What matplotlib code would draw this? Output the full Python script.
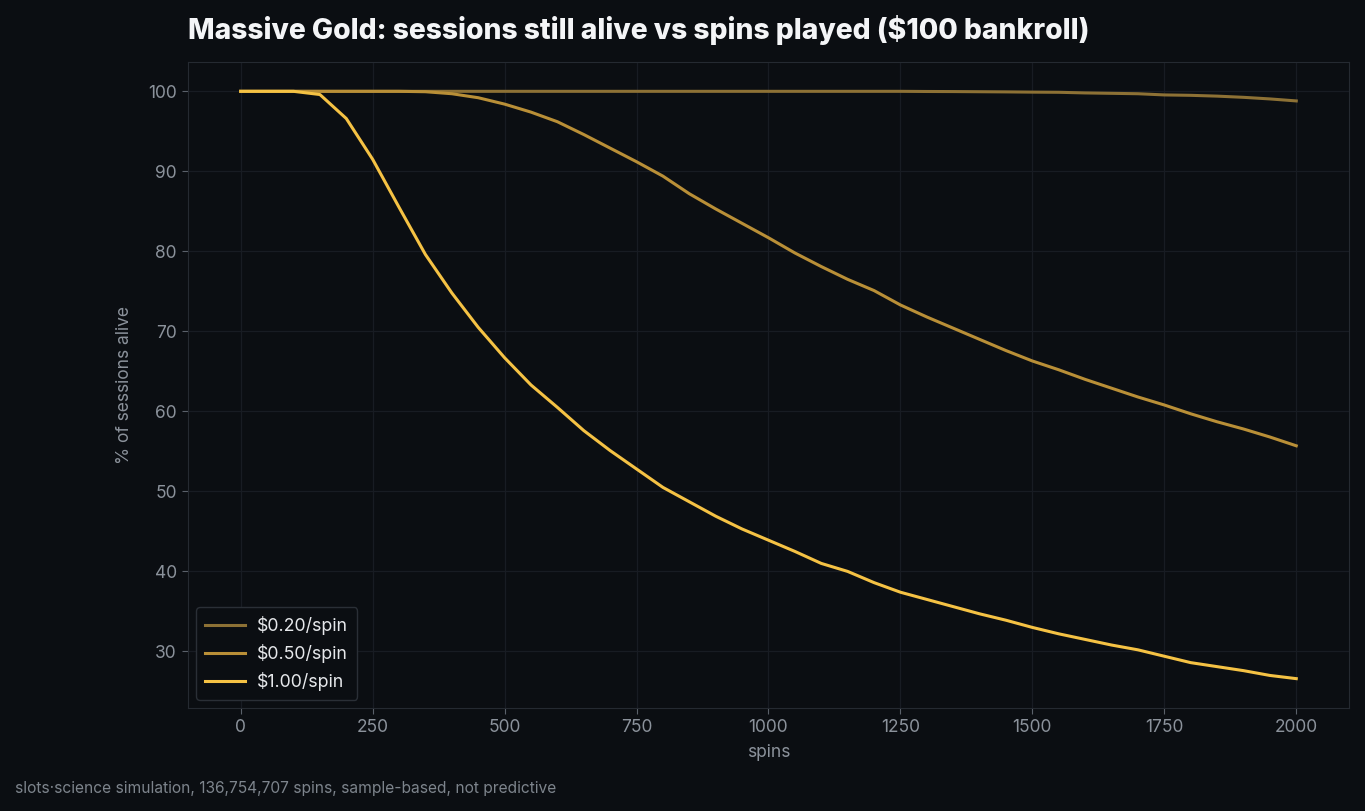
import matplotlib.pyplot as plt

# spins played, every 50
spins = list(range(0, 2001, 50))

alive_020 = [100, 100, 100, 100, 100, 100, 100, 100, 100, 100,
             100, 100, 100, 100, 100, 100, 100, 100, 100, 100,
             100, 100, 100, 100, 100, 100, 99.98, 99.97, 99.95, 99.93,
             99.9, 99.88, 99.8, 99.75, 99.7, 99.55, 99.5, 99.4, 99.25, 99.05,
             98.8]
alive_050 = [100, 100, 100, 100, 100, 100, 100, 99.95, 99.7, 99.2,
             98.4, 97.4, 96.2, 94.6, 92.9, 91.2, 89.4, 87.2, 85.3, 83.5,
             81.7, 79.8, 78.1, 76.5, 75.1, 73.3, 71.8, 70.4, 69.0, 67.6,
             66.3, 65.2, 64.0, 62.9, 61.8, 60.8, 59.7, 58.7, 57.8, 56.8,
             55.7]
alive_100 = [100, 100, 100, 99.6, 96.6, 91.5, 85.5, 79.6, 74.8, 70.5,
             66.7, 63.3, 60.5, 57.6, 55.1, 52.8, 50.5, 48.7, 46.9, 45.3,
             43.9, 42.5, 41.0, 40.0, 38.6, 37.4, 36.5, 35.6, 34.7, 33.9,
             33.0, 32.2, 31.5, 30.8, 30.2, 29.4, 28.6, 28.1, 27.6, 27.0,
             26.6]

labels = ["$0.20/spin", "$0.50/spin", "$1.00/spin"]
colors = ["#8d7135", "#b98f37", "#f5c244"]

bg = "#0b0e12"
plt.rcParams['font.family'] = ['Inter', 'DejaVu Sans']

fig = plt.figure(figsize=(13.65, 8.11), dpi=100, facecolor=bg)
ax = fig.add_axes([0.1377, 0.127, 0.8506, 0.7966], facecolor=bg)

for ys, lab, c in zip([alive_020, alive_050, alive_100], labels, colors):
    ax.plot(spins, ys, color=c, lw=2.2, label=lab)

ax.grid(True, color="#181c23", lw=0.9)
ax.set_axisbelow(True)
for s in ax.spines.values():
    s.set_color("#252a31")
ax.tick_params(colors="#8b929b", labelsize=12.5, length=4.5, color="#5a616a")
ax.set_xticks([0, 250, 500, 750, 1000, 1250, 1500, 1750, 2000])
ax.set_yticks([30, 40, 50, 60, 70, 80, 90, 100])

ax.set_xlabel("spins", color="#8b929b", fontsize=12.5, labelpad=6)
ax.set_ylabel("% of sessions alive", color="#8b929b", fontsize=12.5, labelpad=11)

leg = ax.legend(loc="lower left", fontsize=12.8, facecolor=bg, edgecolor="#2a2f36",
                labelcolor="#e6e8eb", handlelength=2.25, handletextpad=0.7,
                borderpad=0.5, borderaxespad=0.45)
leg.get_frame().set_alpha(1)

fig.text(0.1377, 0.963, "Massive Gold: sessions still alive vs spins played ($100 bankroll)",
         color="#f4f5f7", fontsize=20.3, fontweight="heavy", va="center", ha="left")
fig.text(0.011, 0.028, "slots\u00b7science simulation, 136,754,707 spins, sample-based, not predictive",
         color="#7d848c", fontsize=11.2, va="center", ha="left")

fig.savefig("out.png", dpi=100, facecolor=bg)
